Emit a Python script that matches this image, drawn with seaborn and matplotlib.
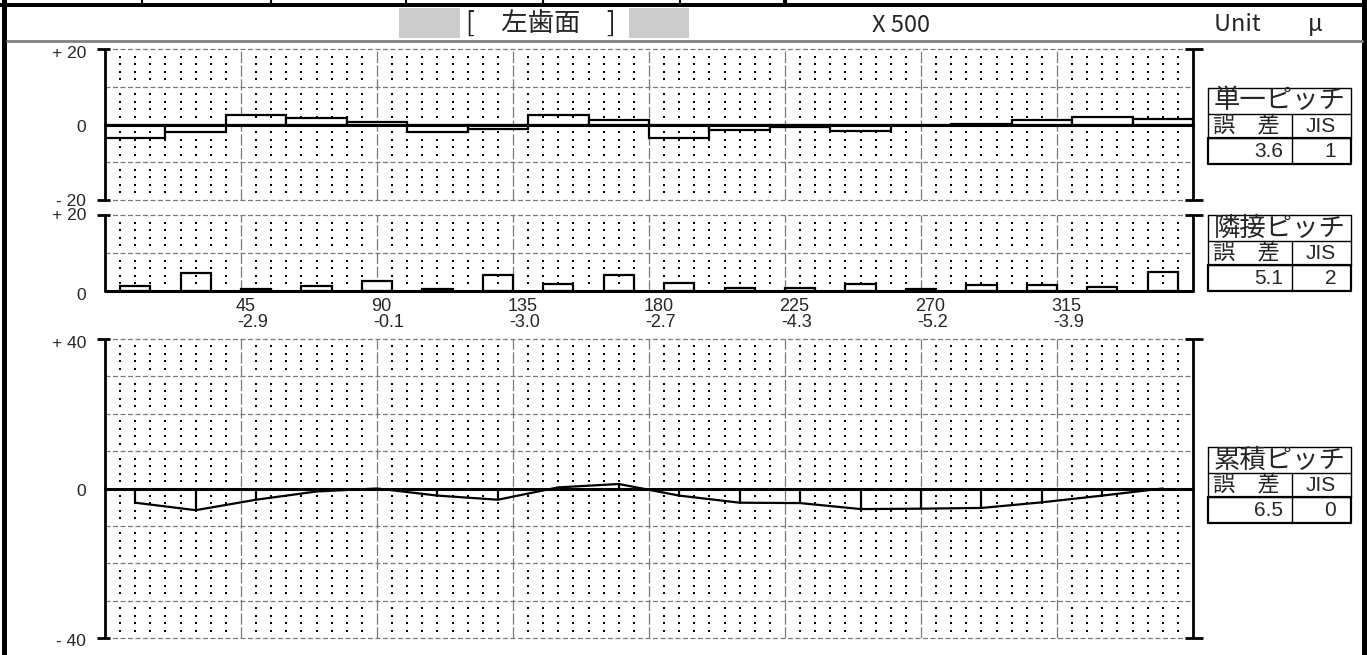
import numpy as np
import pandas as pd
import matplotlib
matplotlib.use("Agg")
import matplotlib.pyplot as plt
import seaborn as sns
from matplotlib import font_manager as fm
from matplotlib.patches import Rectangle

# ---------------- data ----------------
tooth_no = list(range(1, 19))
single_pitch = [-3.6, -1.9, 2.4, 1.7, 0.7, -1.9, -1.3, 2.5, 1.2, -3.5,
                -1.5, -0.7, -1.6, 0.0, 0.1, 1.2, 1.9, 1.4]
adjacent_pitch = [1.3, 4.8, 0.6, 1.4, 2.7, 0.4, 4.2, 1.8, 4.2, 2.0,
                  0.9, 0.9, 1.8, 0.4, 1.5, 1.5, 1.0, 5.1]
cumulative_pitch = [-3.8, -5.8, -3.0, -0.8, 0.0, -1.9, -3.0, 0.3, 1.2, -1.9,
                    -3.8, -3.9, -5.5, -5.4, -5.2, -3.7, -1.9, 0.0]
angle_ticks = [45, 90, 135, 180, 225, 270, 315]
angle_values = ["-2.9", "-0.1", "-3.0", "-2.7", "-4.3", "-5.2", "-3.9"]
table_titles = ["単一ピッチ", "隣接ピッチ", "累積ピッチ"]
table_errors = ["3.6", "5.1", "6.5"]
table_jis = ["1", "2", "0"]
header_title = "[　左歯面　]"
header_scale = "X 500"
header_unit = "Unit　　μ"

# ---------------- fonts ----------------
sns.set_theme(style="white")
avail = {f.name for f in fm.fontManager.ttflist}
NARROW = "Liberation Sans Narrow" if "Liberation Sans Narrow" in avail else "Liberation Sans"
CJK = ["Noto Sans CJK JP", "DejaVu Sans"]
plt.rcParams["font.family"] = [NARROW, "DejaVu Sans"]

W, H = 1367, 655
fig = plt.figure(figsize=(W / 100, H / 100), dpi=100)
fig.patch.set_facecolor("white")

ov = fig.add_axes([0, 0, 1, 1])
ov.set_xlim(0, W)
ov.set_ylim(H, 0)
ov.axis("off")

X0, X1 = 105, 1193


def ax_at(y0, y1):
    a = fig.add_axes([X0 / W, 1 - y1 / H, (X1 - X0) / W, (y1 - y0) / H])
    a.set_facecolor("none")
    return a


pitch = 360 / len(tooth_no)
df = pd.DataFrame({
    "tooth": tooth_no,
    "angle": [(t - 0.5) * pitch for t in tooth_no],
    "single": single_pitch,
    "adjacent": adjacent_pitch,
    "cumulative": cumulative_pitch,
})

GRID = "#7a7a7a"


def style_chart(ax, ymin, ymax):
    ax.set_xlim(0, 360)
    ax.set_ylim(ymin, ymax)
    for s in ax.spines.values():
        s.set_visible(False)
    ax.set_xticks([])
    ax.set_yticks([])
    ax.set_xlabel("")
    ax.set_ylabel("")
    xs = [a for a in range(5, 360, 5) if a % 45]
    ys = [v for v in range(ymin + 2, ymax, 2) if v % 10]
    gx, gy = np.meshgrid(xs, ys)
    ax.scatter(gx.ravel(), gy.ravel(), s=2.0, marker="s", color="black",
               linewidths=0, zorder=6)
    for v in range(ymin, ymax + 1, 10):
        if v == 0:
            continue
        ax.axhline(v, color=GRID, lw=0.9, ls=(0, (4, 2)), zorder=0.5, clip_on=False)
    for a in range(45, 360, 45):
        ax.axvline(a, color=GRID, lw=0.9, ls=(0, (9, 2)), zorder=0.5)
    ax.axhline(0, color="black", lw=2.2, zorder=7, clip_on=False)


def spines(ax, ymin, ymax, caps):
    for x in (0, 360):
        ax.plot([x, x], [ymin, ymax], color="black", lw=2.0, clip_on=False,
                solid_capstyle="butt", zorder=8)
        for yc in caps:
            xx = [-2.7, 1.7] if x == 0 else [357.4, 363.3]
            ax.plot(xx, [yc, yc], color="black", lw=2.0, clip_on=False,
                    solid_capstyle="butt", zorder=8)


# ---------------- single pitch ----------------
ax1 = ax_at(49, 200)
sns.barplot(data=df, x="angle", y="single", native_scale=True, width=1.0,
            color="white", saturation=1, edgecolor="black", linewidth=1.6,
            errorbar=None, ax=ax1, zorder=3)
style_chart(ax1, -20, 20)
spines(ax1, -20, 20, [-20, 20])

# ---------------- adjacent pitch ----------------
ax2 = ax_at(215, 291)
sns.barplot(data=df, x="angle", y="adjacent", native_scale=True, width=0.5,
            color="white", saturation=1, edgecolor="black", linewidth=1.6,
            errorbar=None, ax=ax2, zorder=3)
style_chart(ax2, 0, 20)
spines(ax2, 0, 20, [20])
tr = ax2.get_xaxis_transform()
for a, v in zip(angle_ticks, angle_values):
    ax2.text(a - 1.8, -0.2, str(a), transform=tr, ha="left", va="center",
             fontsize=13, family=[NARROW, "DejaVu Sans"])
    ax2.text(a - 1.2, -0.41, v, transform=tr, ha="left", va="center",
             fontsize=13, family=[NARROW, "DejaVu Sans"])

# ---------------- cumulative pitch ----------------
ax3 = ax_at(339, 638)
sns.lineplot(data=df, x="angle", y="cumulative", color="black", lw=1.6,
             ax=ax3, zorder=4)
ax3.vlines(df["angle"], 0, df["cumulative"], color="black", lw=1.6, zorder=4)
style_chart(ax3, -40, 40)
spines(ax3, -40, 40, [-40, 40])

# ---------------- y labels ----------------
ylabels = [("+ 20", 53), ("0", 128), ("- 20", 201), ("+ 20", 215.5),
           ("0", 295), ("+ 40", 343), ("0", 492), ("- 40", 642)]
for txt, y in ylabels:
    ov.text(86, y, txt, ha="right", va="center", fontsize=12.5,
            family=[NARROW, "DejaVu Sans"])

# ---------------- frame / header ----------------
ov.add_patch(Rectangle((0, 2.5), W, 4, color="black", lw=0))
for x in [142, 271, 406, 543, 680]:
    ov.plot([x, x], [0, 4], color="black", lw=1.5)
ov.plot([785, 785], [0, 4], color="black", lw=3)
ov.add_patch(Rectangle((2, 0), 5, H, color="black", lw=0))
ov.add_patch(Rectangle((1362, 0), 5, H, color="black", lw=0))
ov.plot([7, 1362], [40.5, 40.5], color="#808080", lw=2)
ov.add_patch(Rectangle((399, 8), 61, 30, color="#cccccc", lw=0))
ov.add_patch(Rectangle((629, 8), 60, 30, color="#cccccc", lw=0))
ov.text(541, 23, header_title, ha="center", va="center", fontsize=19, family=CJK)
ov.text(901, 25, header_scale, ha="center", va="center", fontsize=17, family=CJK)
ov.text(1268, 25, header_unit, ha="center", va="center", fontsize=17, family=CJK)

# ---------------- tables ----------------
TX0, TX1, TXM = 1208, 1351, 1292
for title, err, jis, ty in zip(table_titles, table_errors, table_jis, [88, 215, 447]):
    r1, r2, r3 = ty + 25.5, ty + 50, ty + 75.5
    ov.plot([TX0, TX1, TX1, TX0, TX0], [ty, ty, r2, r2, ty], color="black", lw=1.0)
    ov.plot([TX0, TX1], [r1, r1], color="black", lw=1.0)
    ov.plot([TXM, TXM], [r1, r3], color="black", lw=1.0)
    ov.plot([TX0, TX1, TX1, TX0, TX0], [r2, r2, r3, r3, r2], color="black", lw=1.6)
    ov.text((TX0 + TX1) / 2, ty + 13, title, ha="center", va="center",
            fontsize=19, family=CJK)
    ov.text(1246, (r1 + r2) / 2, "誤　差", ha="center", va="center",
            fontsize=16, family=CJK)
    ov.text(1321, (r1 + r2) / 2 + 1, "JIS", ha="center", va="center",
            fontsize=15, family=[NARROW, "DejaVu Sans"])
    ov.text(1283, (r2 + r3) / 2 + 1, err, ha="right", va="center",
            fontsize=15, family=[NARROW, "DejaVu Sans"])
    ov.text(1336, (r2 + r3) / 2 + 1, jis, ha="right", va="center",
            fontsize=15, family=[NARROW, "DejaVu Sans"])

fig.savefig("out.png", dpi=100, facecolor="white")
